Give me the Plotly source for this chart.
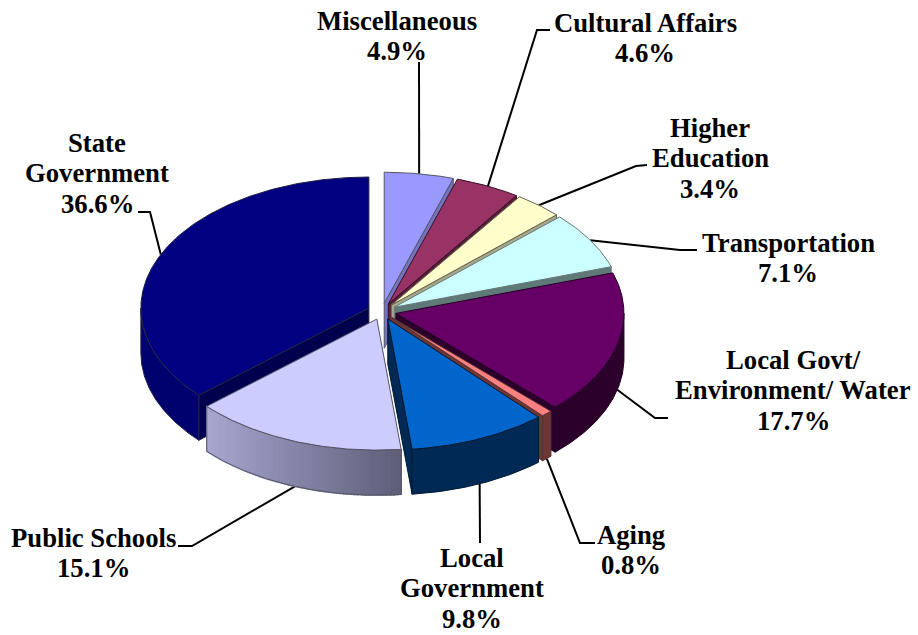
import numpy as np
import plotly.graph_objects as go

# ---- data (clockwise from 12 o'clock) ----
categories = ["Miscellaneous", "Cultural Affairs", "Higher Education", "Transportation",
              "Local Govt/ Environment/ Water", "Aging", "Local Government", "Public Schools",
              "State Government"]
values = [4.9, 4.6, 3.4, 7.1, 17.7, 0.8, 9.8, 15.1, 36.6]
label_lines = [["Miscellaneous"], ["Cultural Affairs"], ["Higher", "Education"], ["Transportation"],
               ["Local Govt/", "Environment/ Water"], ["Aging"], ["Local", "Government"],
               ["Public Schools"], ["State", "Government"]]
top_colors = ["#9999FF", "#993366", "#FFFFCC", "#CCFFFF", "#660066", "#FF8080", "#0066CC", "#CCCCFF", "#000080"]
face_colors = ["#7373BF", "#5A1E3C", "#A8A888", "#5F7878", "#2B002B", "#6E3535", "#002A55", "#8888AA", "#00004F"]
wall_left = ["#7373BF", "#5A1E3C", "#A8A888", "#5F7878", "#2B002B", "#6E3535", "#002A55", "#A6A6D0", "#00006E"]
wall_right = ["#7373BF", "#5A1E3C", "#A8A888", "#5F7878", "#2B002B", "#6E3535", "#002A55", "#5E5E78", "#00006E"]
edge_colors = ["#555566", "#331122", "#666655", "#667777", "#220022", "#553333", "#001833", "#555566", "#222244"]

# label placement: centre of the text block, leader elbow, leader end
label_xy = [(397, 36), (645, 38), (710, 158), (788, 258), (793, 390), (631, 550), (472, 588), (93, 553), (97, 173)]
leader_mid = [None, (537, 30), (636, 166), (680, 250), (655, 418), (580, 543), None, (192, 546), (150, 212)]
leader_end = [(419, 62), (550, 30), (647, 165), (697, 250), (668, 418), (595, 543), (480, 543), (178, 546), (138, 212)]

# ---- pie geometry ----
CX, CY, RX, RY, DEPTH, EXPLODE = 382.0, 311.4, 228.0, 131.0, 45.0, 0.063
FONT = "Liberation Serif"
LINE_STEP = 30.5


def hex2rgb(h):
    return np.array([int(h[i:i + 2], 16) for i in (1, 3, 5)], dtype=float)


def mix(a, b, t):
    c = hex2rgb(a) * (1 - t) + hex2rgb(b) * t
    return "rgb(%d,%d,%d)" % tuple(c.round().astype(int))


def pt(apex, deg, dy=0.0):
    r = np.radians(deg)
    return apex[0] + RX * np.sin(r), apex[1] - RY * np.cos(r) + dy


fig = go.Figure()


def poly(xs, ys, fill, line, width=1.0):
    fig.add_trace(go.Scatter(x=list(xs), y=list(ys), mode="lines", fill="toself", fillcolor=fill,
                             line=dict(color=line, width=width), hoverinfo="skip", showlegend=False))


edges = np.concatenate([[0], np.cumsum(values)]) / np.sum(values) * 360.0
mids = (edges[:-1] + edges[1:]) / 2
apexes = [(CX + EXPLODE * RX * np.sin(np.radians(m)), CY - EXPLODE * RY * np.cos(np.radians(m))) for m in mids]

# leaders go underneath the pie
for i, m in enumerate(mids):
    on_wall = 90 < m < 270
    sx = CX + (1 + EXPLODE) * RX * np.sin(np.radians(m))
    sy = CY - (1 + EXPLODE) * RY * np.cos(np.radians(m)) + (DEPTH if on_wall else 0)
    px = [sx] + ([leader_mid[i][0]] if leader_mid[i] else []) + [leader_end[i][0]]
    py = [sy] + ([leader_mid[i][1]] if leader_mid[i] else []) + [leader_end[i][1]]
    fig.add_trace(go.Scatter(x=px, y=py, mode="lines", line=dict(color="black", width=2),
                             hoverinfo="skip", showlegend=False))

# slices, back to front
for i in sorted(range(len(values)), key=lambda k: -np.cos(np.radians(mids[k]))):
    a0, a1, ap = edges[i], edges[i + 1], apexes[i]
    if 0 < a1 < 180:
        x, y = pt(ap, a1)
        poly([ap[0], x, x, ap[0], ap[0]], [ap[1], y, y + DEPTH, ap[1] + DEPTH, ap[1]], face_colors[i], edge_colors[i])
    if 180 < a0 < 360:
        x, y = pt(ap, a0)
        poly([ap[0], x, x, ap[0], ap[0]], [ap[1], y, y + DEPTH, ap[1] + DEPTH, ap[1]], face_colors[i], edge_colors[i])
    w0, w1 = max(a0, 90.0), min(a1, 270.0)
    if w1 > w0:
        fine = np.linspace(w0, w1, 80)
        shaded = wall_left[i] != wall_right[i]
        if shaded:
            fx = pt(ap, fine)[0]
            x_low, x_high = fx.min(), fx.max()
            cuts = np.linspace(w0, w1, 61)
            for s in range(60):
                th = np.linspace(cuts[s], cuts[s + 1], 3)
                xa, ya = pt(ap, th)
                xb, yb = pt(ap, th[::-1], DEPTH)
                col = mix(wall_left[i], wall_right[i], (xa.mean() - x_low) / (x_high - x_low))
                poly(np.r_[xa, xb, xa[0]], np.r_[ya, yb, ya[0]], col, col, 1.5)
        xa, ya = pt(ap, fine)
        xb, yb = pt(ap, fine[::-1], DEPTH)
        if shaded:
            fig.add_trace(go.Scatter(x=np.r_[xa, xb, xa[0]], y=np.r_[ya, yb, ya[0]], mode="lines",
                                     line=dict(color=edge_colors[i], width=1), hoverinfo="skip", showlegend=False))
        else:
            poly(np.r_[xa, xb, xa[0]], np.r_[ya, yb, ya[0]], wall_left[i], edge_colors[i])
    th = np.linspace(a0, a1, max(int(a1 - a0) * 2, 6))
    xt, yt = pt(ap, th)
    poly(np.r_[ap[0], xt, ap[0]], np.r_[ap[1], yt, ap[1]], top_colors[i], edge_colors[i])

# labels: one annotation per text line so the line pitch stays tight
for i, lines in enumerate(label_lines):
    rows = lines + ["%.1f%%" % values[i]]
    for j, row in enumerate(rows):
        fig.add_annotation(x=label_xy[i][0], y=label_xy[i][1] + (j - (len(rows) - 1) / 2) * LINE_STEP,
                           text="<b>%s</b>" % row, showarrow=False, xanchor="center", yanchor="middle",
                           font=dict(family=FONT, size=26.7, color="black"))

fig.update_layout(width=918, height=635, margin=dict(l=0, r=0, t=0, b=0),
                  paper_bgcolor="white", plot_bgcolor="white", showlegend=False,
                  xaxis=dict(range=[0, 918], visible=False, fixedrange=True),
                  yaxis=dict(range=[635, 0], visible=False, fixedrange=True))
fig.write_html("out.html", post_script="document.body.style.margin='0';",
               config={"displayModeBar": False})
